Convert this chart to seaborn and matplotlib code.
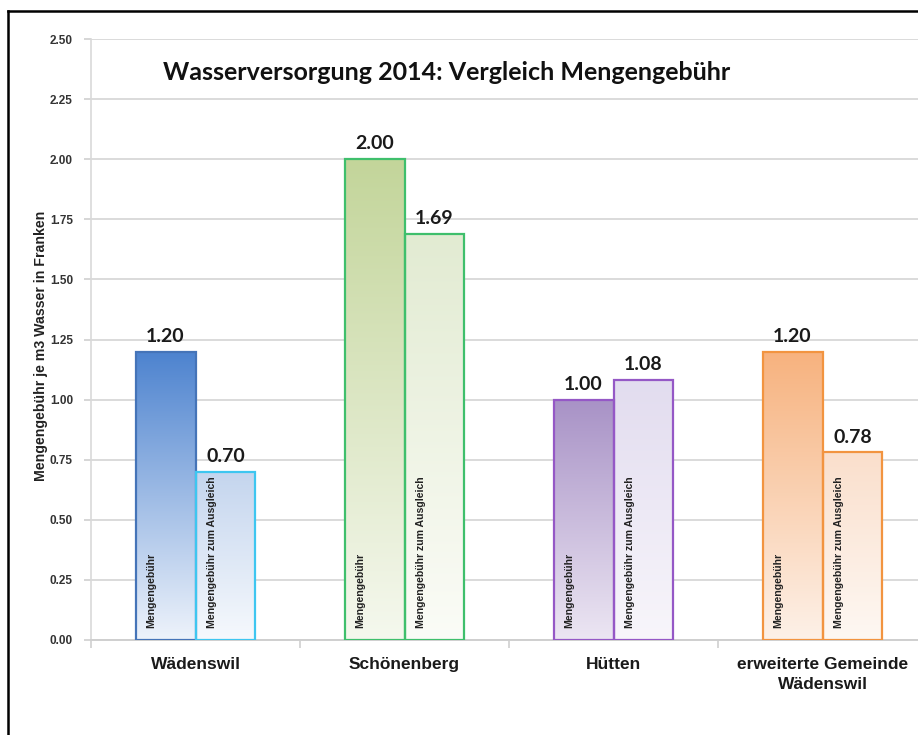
import numpy as np
import pandas as pd
import matplotlib
matplotlib.use("Agg")
import matplotlib.pyplot as plt
import matplotlib.colors as mcolors
from matplotlib.lines import Line2D
import seaborn as sns

# ---- data ----
categories = ["Wädenswil", "Schönenberg", "Hütten", "erweiterte Gemeinde\nWädenswil"]
series_names = ["Mengengebühr", "Mengengebühr zum Ausgleich"]
mengengebuehr = [1.20, 2.00, 1.00, 1.20]
ausgleich = [0.70, 1.69, 1.08, 0.78]
yticks = [0.00, 0.25, 0.50, 0.75, 1.00, 1.25, 1.50, 1.75, 2.00, 2.25, 2.50]
title = "Wasserversorgung 2014: Vergleich Mengengebühr"
ylabel = "Mengengebühr je m3 Wasser in Franken"

# colours per category: (top, bottom, edge) for each series
colors_main = [("#4d83cf", "#eef3fb", "#4574b8"),
               ("#c3d59a", "#f5f8ee", "#3fbf6c"),
               ("#a892c6", "#ece6f3", "#9558c6"),
               ("#f7b27e", "#fdf1e8", "#f29440")]
colors_ausg = [("#c4d5ee", "#f6f9fd", "#3ec6f0"),
               ("#e2ebd2", "#fbfcf7", "#3fbf6c"),
               ("#e2dcef", "#f8f6fb", "#9558c6"),
               ("#fadfcc", "#fef8f3", "#f29440")]

df = pd.DataFrame({
    "Gemeinde": categories * 2,
    "Serie": [series_names[0]] * 4 + [series_names[1]] * 4,
    "Wert": mengengebuehr + ausgleich,
})

fig = plt.figure(figsize=(9.18, 7.35), dpi=100)
ax = fig.add_axes([91 / 918, 1 - 640 / 735, 836 / 918, 601 / 735])

sns.barplot(data=df, x="Gemeinde", y="Wert", hue="Serie", order=categories,
            hue_order=series_names, width=0.574, dodge=True, legend=False,
            ax=ax, zorder=3)

ax.set_ylim(0, 2.5)
ax.set_xlim(-0.5, len(categories) - 0.5)

grad = np.linspace(0, 1, 256).reshape(-1, 1)
for si, (cont, cols) in enumerate(zip(ax.containers, [colors_main, colors_ausg])):
    for ci, patch in enumerate(cont.patches):
        top, bot, edge = cols[ci]
        patch.set_facecolor("none")
        patch.set_edgecolor(edge)
        patch.set_linewidth(1.6)
        patch.set_zorder(4)
        x0, y0 = patch.get_x(), patch.get_y()
        w, h = patch.get_width(), patch.get_height()
        cmap = mcolors.LinearSegmentedColormap.from_list("g", [bot, top])
        im = ax.imshow(grad, cmap=cmap, aspect="auto", origin="lower",
                       extent=[x0, x0 + w, y0, y0 + h], zorder=3,
                       interpolation="bicubic")
        im.set_clip_path(patch)
        # value label
        ax.annotate(f"{h:.2f}", (x0 + w / 2, h), xytext=(0, 5),
                    textcoords="offset points", ha="center", va="bottom",
                    fontsize=14, fontweight="bold", family="Lato",
                    color="#1a1a1a", zorder=6)
        # inner series label
        ax.text(x0 + w * 0.27, 0.05, series_names[si], rotation=90,
                ha="center", va="bottom", fontsize=7.6, fontweight="bold",
                family="Liberation Sans", color="#222222", zorder=6)

ax.set_xlim(-0.5, len(categories) - 0.5)
ax.set_ylim(0, 2.5)

# grid and axes styling
ax.set_yticks(yticks)
ax.set_yticklabels([f"{v:.2f}" for v in yticks], fontsize=8.5,
                   fontweight="bold", family="Liberation Sans", color="#333333")
ax.yaxis.grid(True, color="#dadada", linewidth=1.4, zorder=0)
ax.set_axisbelow(True)
ax.tick_params(axis="y", length=5, color="#cfcfcf", width=1.2, pad=8)
ax.set_xticks(range(len(categories)))
ax.set_xticklabels(categories, fontsize=12.5, fontweight="bold",
                   family="Liberation Sans", color="#1a1a1a", linespacing=1.45)
ax.tick_params(axis="x", length=0, pad=12)
ax.set_xticks(np.arange(-0.5, len(categories), 1.0), minor=True)
ax.tick_params(axis="x", which="minor", length=6, color="#cfcfcf", width=1.2)
for s in ["top", "right"]:
    ax.spines[s].set_visible(False)
ax.spines["left"].set_color("#d9d9d9")
ax.spines["left"].set_linewidth(1.2)
ax.spines["bottom"].set_color("#cfcfcf")
ax.spines["bottom"].set_linewidth(1.4)

ax.set_xlabel("")
ax.set_ylabel(ylabel, fontsize=10.2, fontweight="bold", family="Liberation Sans",
              color="#222222")
ax.yaxis.set_label_coords(-0.052, 0.49)

fig.text(447 / 918, 1 - 72 / 735, title, ha="center", va="center",
         fontsize=18, fontweight="bold", family="Lato", color="#111111")

# outer frame (partially visible)
fig.add_artist(Line2D([8 / 918, 8 / 918], [0, 1 - 11 / 735], transform=fig.transFigure,
                      color="black", linewidth=1.8))
fig.add_artist(Line2D([8 / 918, 1], [1 - 11 / 735, 1 - 11 / 735], transform=fig.transFigure,
                      color="black", linewidth=1.8))

fig.savefig("out.png", dpi=100)
